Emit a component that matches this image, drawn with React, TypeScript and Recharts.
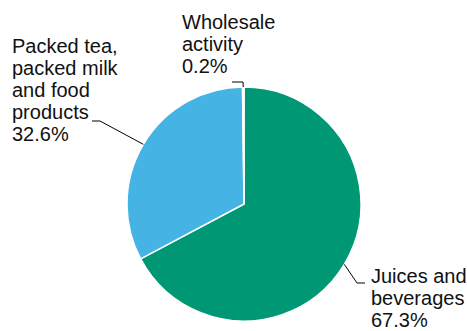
import { PieChart, Pie, Cell } from 'recharts';

// Segment revenue shares (%)
const SEGMENTS = ['Juices and beverages', 'Packed tea, packed milk and food products', 'Wholesale activity'];
const SHARES = [67.3, 32.6, 0.2];
const LABEL_LINES = [
  ['Juices and', 'beverages', '67.3%'],
  ['Packed tea,', 'packed milk', 'and food', 'products', '32.6%'],
  ['Wholesale', 'activity', '0.2%'],
];

const COLORS = ['#009874', '#45b4e4', '#ffffff'];

// where each label block sits and how its leader bends
const LABEL_LAYOUT = [
  { x: 371, y: 283, elbow: [357, 283], end: [365, 283] },
  { x: 12, y: 53, elbow: [100, 121], end: [92, 121] },
  { x: 182, y: 29, elbow: [243, 82], end: [232, 82] },
];

const RAD = Math.PI / 180;
const LINE_H = 22;

const chartData = SEGMENTS.map((name, i) => ({ name, value: SHARES[i] }));

function renderLabel(props: any) {
  const { cx, cy, midAngle, outerRadius, index } = props;
  const layout = LABEL_LAYOUT[index];
  const sx = cx + outerRadius * Math.cos(-midAngle * RAD);
  const sy = cy + outerRadius * Math.sin(-midAngle * RAD);
  return (
    <g key={`lbl-${index}`}>
      <polyline
        points={`${sx},${sy} ${layout.elbow[0]},${layout.elbow[1]} ${layout.end[0]},${layout.end[1]}`}
        fill="none"
        stroke="#000"
        strokeWidth={1}
      />
      <text x={layout.x} y={layout.y} fill="#111" fontSize={20} fontFamily="'Liberation Sans', Arial, sans-serif">
        {LABEL_LINES[index].map((line, j) => (
          <tspan key={j} x={layout.x} y={layout.y + j * LINE_H}>{line}</tspan>
        ))}
      </text>
    </g>
  );
}

export default function App() {
  return (
    <div style={{ position: 'absolute', left: 0, top: 0, width: 467, height: 331, background: '#fff' }}>
      <PieChart width={467} height={331} margin={{ top: 0, right: 0, bottom: 0, left: 0 }}>
        <Pie
          data={chartData}
          dataKey="value"
          cx={244}
          cy={204}
          outerRadius={117}
          startAngle={90}
          endAngle={-270}
          stroke="#ffffff"
          strokeWidth={1.5}
          label={renderLabel}
          labelLine={false}
          isAnimationActive={false}
        >
          {chartData.map((entry, index) => (
            <Cell key={`cell-${index}`} fill={COLORS[index]} />
          ))}
        </Pie>
      </PieChart>
    </div>
  );
}
